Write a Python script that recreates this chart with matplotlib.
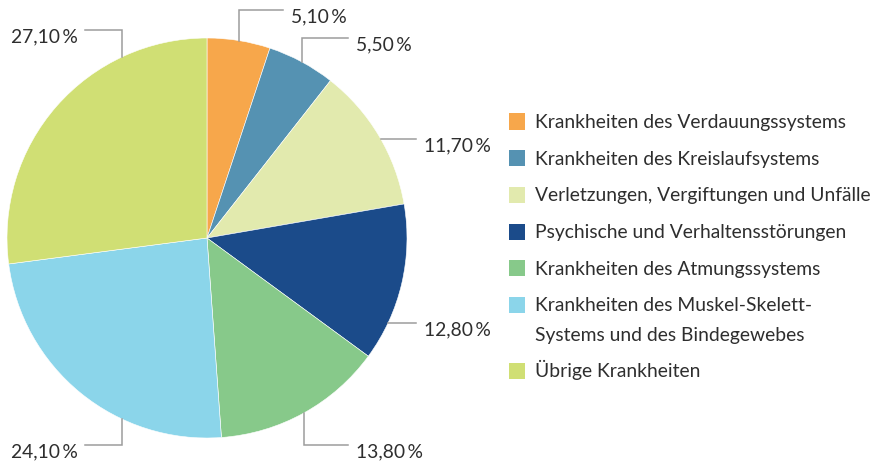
import numpy as np
import matplotlib
matplotlib.use("Agg")
import matplotlib.pyplot as plt
from matplotlib.patches import Rectangle

plt.rcParams["font.family"] = ["Lato", "DejaVu Sans"]

# --- data ---
categories = [
    "Krankheiten des Verdauungssystems",
    "Krankheiten des Kreislaufsystems",
    "Verletzungen, Vergiftungen und Unfälle",
    "Psychische und Verhaltensstörungen",
    "Krankheiten des Atmungssystems",
    "Krankheiten des Muskel-Skelett-\nSystems und des Bindegewebes",
    "Übrige Krankheiten",
]
shares = [5.1, 5.5, 11.7, 12.8, 13.8, 24.1, 27.1]
colors = ["#f7a74b", "#5592b2", "#e2eaae", "#1b4b8a", "#87c98a", "#8bd5ea", "#d0df74"]

W, H = 877, 462
TEXT = "#2e2e2e"
LINE = "#9c9c9c"
FS = 13.9

# leader lines: (kind, anchor, elbow, end_x)  in pie units (radius = 1)
# kind "v": vertical from circle at x=anchor up/down to y=elbow, then horizontal to end_x
# kind "h": horizontal from circle at y=anchor to end_x
leaders = [
    ("v", "mid", 1.14, 0.38),
    ("v", "mid", 1.00, 0.705),
    ("h", 0.495, None, 1.045),
    ("h", -0.425, None, 1.045),
    ("v", "mid", -1.035, 0.705),
    ("v", -0.425, -1.035, -0.61),
    ("v", -0.425, 1.04, -0.61),
]


def fmt(v):
    return f"{v:.2f}".replace(".", ",") + "\u2009%"


fig = plt.figure(figsize=(W / 100, H / 100), dpi=100)
cx, cy, r = 207, 238, 200
ax = fig.add_axes([(cx - r) / W, 1 - (cy + r) / H, 2 * r / W, 2 * r / H])

wedges, _ = ax.pie(
    shares,
    colors=colors,
    startangle=90,
    counterclock=False,
    radius=1,
    wedgeprops=dict(edgecolor="white", linewidth=0.4),
)
ax.set_xlim(-1, 1)
ax.set_ylim(-1, 1)
ax.set_aspect("equal")
ax.axis("off")

total = sum(shares)
start = 90.0
for v, (kind, anchor, elbow, end_x) in zip(shares, leaders):
    sweep = 360.0 * v / total
    mid = np.deg2rad(start - sweep / 2)
    start -= sweep
    if kind == "v":
        x0 = np.cos(mid) if anchor == "mid" else anchor
        y0 = np.sign(elbow) * np.sqrt(1 - x0 ** 2)
        ax.plot([x0, x0, end_x], [y0, elbow, elbow], color=LINE, lw=1.1,
                clip_on=False, solid_joinstyle="miter")
        ty = elbow
    else:
        y0 = anchor
        x0 = np.sqrt(1 - y0 ** 2)
        ax.plot([x0, end_x], [y0, y0], color=LINE, lw=1.1, clip_on=False)
        ty = y0
    # label baseline sits ~12 px below the leader
    if end_x > x0:
        ax.text(end_x + 0.04, ty - 0.06, fmt(v), ha="left", va="baseline",
                fontsize=FS, color=TEXT, clip_on=False)
    else:
        ax.text(end_x - 0.035, ty - 0.06, fmt(v), ha="right", va="baseline",
                fontsize=FS, color=TEXT, clip_on=False)

# legend drawn by hand so multi-line entries keep the square at the first line
lx, ly, step, line_gap, sq = 509, 121.5, 36.7, 29.3, 16
y = ly
for lab, c in zip(categories, colors):
    fig.patches.append(Rectangle(((lx) / W, 1 - (y + sq / 2) / H), sq / W, sq / H,
                                 transform=fig.transFigure, facecolor=c, edgecolor="none"))
    for i, part in enumerate(lab.split("\n")):
        fig.text((lx + 26) / W, 1 - (y + 6.5 + i * line_gap) / H, part, ha="left",
                 va="baseline", fontsize=FS, color=TEXT)
    y += step + line_gap * lab.count("\n")

fig.savefig("out.png", dpi=100)
